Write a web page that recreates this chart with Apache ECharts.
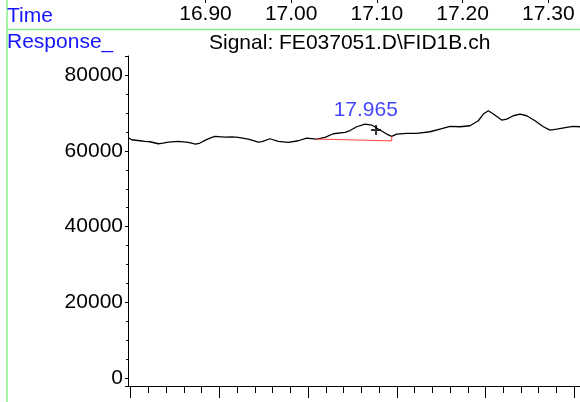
<!DOCTYPE html>
<html>
<head>
<meta charset="utf-8">
<script src="https://cdn.jsdelivr.net/npm/echarts@6/dist/echarts.min.js"></script>
<style>
  html, body { margin: 0; padding: 0; background: #fff; }
  #chart { width: 580px; height: 402px; }
</style>
</head>
<body>
<div id="chart"></div>
<script>
// trace: retention time (min) and detector response
const traceTime = [
  17.6970, 17.7011, 17.7105, 17.7161, 17.7218, 17.7311, 17.7364, 17.7424, 17.7537, 17.7649,
  17.7733, 17.7781, 17.7838, 17.7894, 17.7950, 17.8063, 17.8142, 17.8213, 17.8326, 17.8439,
  17.8480, 17.8570, 17.8664, 17.8777, 17.8890, 17.8984, 17.9097, 17.9191, 17.9284, 17.9416,
  17.9473, 17.9548, 17.9641, 17.9717, 17.9791, 17.9886, 17.9942, 17.9999, 18.0112, 18.0224,
  18.0374, 18.0487, 18.0600, 18.0713, 18.0825, 18.0919, 18.0975, 18.1032, 18.1088, 18.1183,
  18.1239, 18.1313, 18.1389, 18.1464, 18.1558, 18.1652, 18.1727, 18.1803, 18.1915, 18.1986,
  18.2065
]
const traceResp = [
  63500, 62921, 62658, 62500, 62394, 61867, 62051, 62315, 62500, 62236,
  61788, 62051, 62763, 63369, 63818, 63633, 63686, 63554, 63106, 62315,
  62447, 63185, 62500, 62236, 62658, 63369, 63106, 63554, 64503, 64872,
  65346, 66348, 67060, 66796, 65742, 64424, 63818, 64424, 64608, 64608,
  65030, 65742, 66454, 66348, 66612, 67930, 69696, 70566, 69696, 68114,
  68378, 69248, 69696, 69248, 67930, 66348, 65478, 65742, 66190, 66454,
  66348
]

// integration baseline of the labelled peak
const baseTime = [17.9086, 17.9086, 17.9943, 17.9943]
const baseResp = [63106, 62631, 62631, 63818]

// labelled peak apex and the cross marker
const peakTime = [17.965]
const peakResp = [67060]
const crossTime = [17.9766]
const crossResp = [65478]

const BLUE  = '#1414ff'
const GREEN = '#88ee88'
const FONT  = 'Liberation Sans, Arial, sans-serif'

const pairs = (xs, ys) => xs.map((x, i) => [x, ys[i]])

const chart = echarts.init(document.getElementById('chart'))

chart.setOption({
  animation: false,
  backgroundColor: '#fff',
  textStyle: { fontFamily: FONT },
  title: [
    { text: 'Time', left: 7, top: 6, padding: 0,
      textStyle: { color: BLUE, fontSize: 21, fontWeight: 'normal', fontFamily: FONT } },
    { text: 'Response_', left: 7, top: 32, padding: 0,
      textStyle: { color: BLUE, fontSize: 21, fontWeight: 'normal', fontFamily: FONT } },
    { text: 'Signal: FE037051.D\\FID1B.ch', left: 209, top: 33, padding: 0,
      textStyle: { color: '#000', fontSize: 21, fontWeight: 'normal', fontFamily: FONT } }
  ],
  graphic: [
    { type: 'line', shape: { x1: 7, y1: 0, x2: 7, y2: 402 }, style: { stroke: GREEN, lineWidth: 1.5 } },
    { type: 'line', shape: { x1: 7, y1: 29.5, x2: 580, y2: 29.5 }, style: { stroke: GREEN, lineWidth: 1.5 } }
  ],
  grid: [
    // plot area
    { left: 128, right: 0, top: 56, bottom: 16, outerBoundsMode: 'none', containLabel: false },
    // bottom tick ruler
    { left: 130.7, right: -82.9, top: 56, bottom: 16, outerBoundsMode: 'none', containLabel: false },
    // top time ruler
    { left: 205.5, right: -54, top: 0, bottom: 16, outerBoundsMode: 'none', containLabel: false }
  ],
  xAxis: [
    {
      gridIndex: 0, type: 'value', min: 17.697, max: 18.2065,
      axisLine: { show: true, onZero: false, lineStyle: { color: '#000', width: 1 } },
      axisTick: { show: false }, axisLabel: { show: false }, splitLine: { show: false }
    },
    {
      gridIndex: 1, type: 'value', min: 17.7, max: 18.3, interval: 0.1,
      axisLine: { show: false, onZero: false },
      axisTick: { show: true, length: 12, lineStyle: { color: '#000', width: 1 } },
      minorTick: { show: true, splitNumber: 5, length: 7, lineStyle: { color: '#000', width: 1 } },
      axisLabel: { show: false }, splitLine: { show: false }
    },
    {
      gridIndex: 2, type: 'value', position: 'top', min: 16.9, max: 17.4, interval: 0.1,
      axisLine: { show: false, onZero: false },
      axisTick: { show: true, inside: true, length: 3, lineStyle: { color: '#000', width: 1 } },
      axisLabel: {
        show: true, inside: true, margin: 4, fontSize: 21, color: '#000', fontFamily: FONT,
        formatter: (v) => v.toFixed(2)
      },
      splitLine: { show: false }
    }
  ],
  yAxis: [
    {
      gridIndex: 0, type: 'value', min: -2000, max: 85000,
      axisLine: { show: true, onZero: false, lineStyle: { color: '#000', width: 1 } },
      axisTick: { show: true, length: 3, lineStyle: { color: '#000', width: 1 } },
      minorTick: { show: true, splitNumber: 4, length: 2, lineStyle: { color: '#000', width: 1 } },
      axisLabel: {
        fontSize: 21, color: '#000', margin: 5, fontFamily: FONT,
        showMinLabel: false, showMaxLabel: false,
        formatter: (v) => String(v)
      },
      splitLine: { show: false }
    },
    { gridIndex: 1, type: 'value', show: false, min: 0, max: 1 },
    { gridIndex: 2, type: 'value', show: false, min: 0, max: 1 }
  ],
  series: [
    {
      type: 'line', xAxisIndex: 0, yAxisIndex: 0,
      data: pairs(traceTime, traceResp),
      showSymbol: false, silent: true,
      lineStyle: { color: '#000', width: 1.3 }
    },
    {
      type: 'line', xAxisIndex: 0, yAxisIndex: 0,
      data: pairs(baseTime, baseResp),
      showSymbol: false, silent: true,
      lineStyle: { color: '#ff4040', width: 1 }
    },
    {
      type: 'scatter', xAxisIndex: 0, yAxisIndex: 0,
      data: pairs(crossTime, crossResp),
      symbol: 'path://M4,0h2v4h4v2h-4v4h-2v-4h-4v-2h4z',
      symbolSize: 10, silent: true,
      itemStyle: { color: '#000' }
    },
    {
      type: 'scatter', xAxisIndex: 0, yAxisIndex: 0,
      data: pairs(peakTime, peakResp),
      symbolSize: 1, silent: true,
      itemStyle: { color: 'rgba(0,0,0,0)' },
      label: {
        show: true, position: 'top', distance: 3,
        fontSize: 21, color: BLUE, fontFamily: FONT,
        formatter: (p) => p.value[0].toFixed(3)
      }
    }
  ]
})
</script>
</body>
</html>
